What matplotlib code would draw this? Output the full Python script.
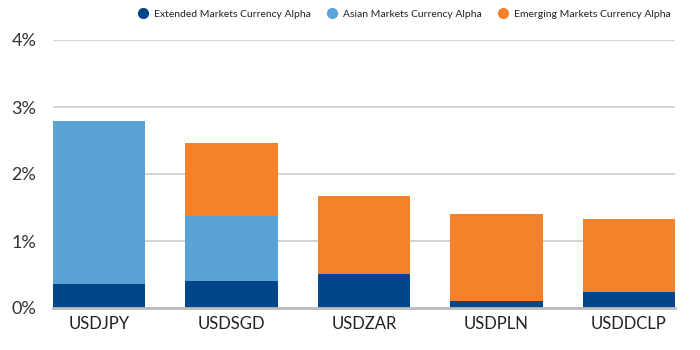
import numpy as np
import matplotlib
matplotlib.use("Agg")
import matplotlib.pyplot as plt
from matplotlib.lines import Line2D

plt.rcParams["font.family"] = ["Lato", "DejaVu Sans"]

pairs = ["USDJPY", "USDSGD", "USDZAR", "USDPLN", "USDDCLP"]
extended = [0.36, 0.40, 0.51, 0.11, 0.24]
asian = [2.43, 0.97, 0.0, 0.0, 0.0]
emerging = [0.0, 1.09, 1.16, 1.29, 1.09]
series_names = [
    "Extended Markets Currency Alpha",
    "Asian Markets Currency Alpha",
    "Emerging Markets Currency Alpha",
]
colors = ["#00478a", "#5ba3d4", "#f5822a"]

fig = plt.figure(figsize=(7, 3.5), dpi=100)
ax = fig.add_axes([53 / 700, 1 - 308 / 350, 622 / 700, 268 / 350])

x = np.arange(len(pairs))
w = 0.695
ext = np.array(extended)
asi = np.array(asian)
emg = np.array(emerging)
ax.bar(x, ext, w, color=colors[0], zorder=3)
ax.bar(x, asi, w, bottom=ext, color=colors[1], zorder=3)
ax.bar(x, emg, w, bottom=ext + asi, color=colors[2], zorder=3)

ax.set_xlim(-w / 2, len(pairs) - 1 + w / 2)
ax.set_ylim(0, 4)
ax.set_yticks([0, 1, 2, 3, 4])
ax.set_yticklabels(["0%", "1%", "2%", "3%", "4%"])
ax.set_xticks(x)
ax.set_xticklabels(pairs)
ax.tick_params(axis="y", length=0, pad=12, labelsize=13, labelcolor="#333333")
ax.tick_params(axis="x", length=0, pad=6, labelsize=12, labelcolor="#222222")
ax.grid(axis="y", color="#cccccc", linewidth=1.2, zorder=0)
for s in ["top", "right", "left"]:
    ax.spines[s].set_visible(False)
ax.spines["bottom"].set_color("#bbbbbb")
ax.spines["bottom"].set_linewidth(2)
ax.spines["bottom"].set_zorder(4)

handles = [
    Line2D([], [], marker="o", linestyle="", markersize=7, color=c)
    for c in colors
]
fig.legend(
    handles,
    series_names,
    loc="upper right",
    bbox_to_anchor=(0.972, 1.0),
    ncol=3,
    frameon=False,
    fontsize=7.5,
    handletextpad=0.1,
    columnspacing=1.0,
    labelcolor="#222222",
)

fig.savefig("out.png", dpi=100)
